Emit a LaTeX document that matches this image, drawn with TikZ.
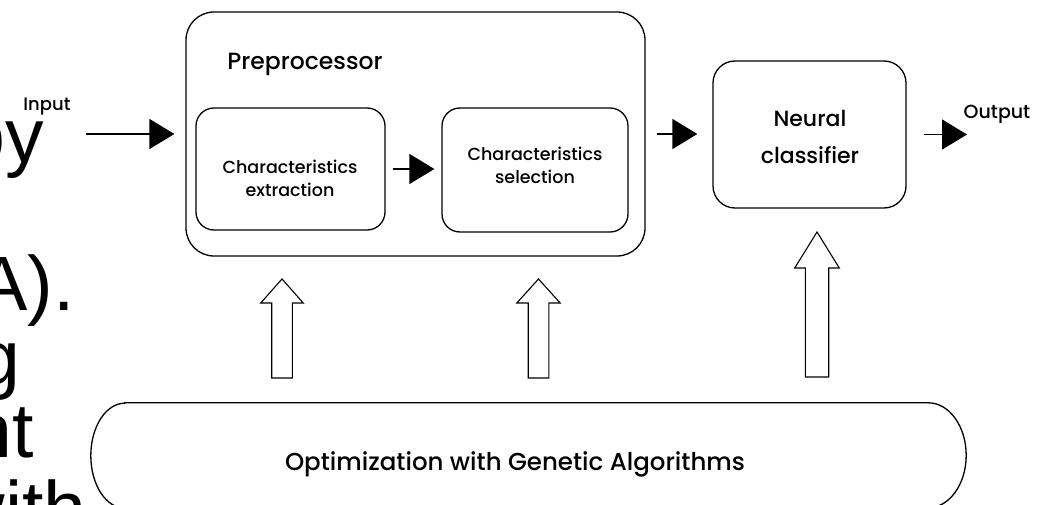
\documentclass[tikz,border=0pt]{standalone}
\usepackage{fontspec}
\setmainfont{Poppins}[UprightFont=* Medium]
\newfontfamily\slidefont{Liberation Sans}
\usetikzlibrary{arrows.meta}

% hollow block arrow pointing up: x, tip y, head base y, bottom y, shaft half width, head half width
\newcommand\blockarrow[6]{%
  \draw[hollow] (#1-#5,#4) -- (#1-#5,#3) -- (#1-#6,#3) -- (#1,#2)
    -- (#1+#6,#3) -- (#1+#5,#3) -- (#1+#5,#4) -- cycle;}

\begin{document}
\begin{tikzpicture}[x=1pt,y=-1pt,
  box/.style={draw, line width=1.3pt, rounded corners=#1, inner sep=0pt},
  flow/.style={line width=1.4pt, -{Triangle[length=25pt,width=30pt]}},
  hollow/.style={draw, line width=1.1pt, fill=white, line join=miter},
  slide/.style={font=\slidefont\fontsize{77}{77}\selectfont, inner sep=0pt, anchor=base east},
  lab/.style={inner sep=0pt, align=center}]

\fill[white] (0,0) rectangle (1042,505);
\useasboundingbox (0,0) rectangle (1042,505);
\clip (0,0) rectangle (1042,505);

% slide text running off the left edge
\node[slide] (s1) at (44,163) {by};
\node[slide] (s2) at (75,310) {A).};
\node[slide] (s3) at (21,384) {g};
\node[slide] (s4) at (34,457) {nt};
\node[slide] (s5) at (87,535) {with};

% boxes
\node[box=28pt, minimum width=459pt, minimum height=244pt] (pre) at (415.5,134) {};
\node[box=18pt, minimum width=189pt, minimum height=122pt] (ext) at (290.5,169) {};
\node[box=18pt, minimum width=186pt, minimum height=124pt] (sel) at (535,170) {};
\node[box=22pt, minimum width=193pt, minimum height=147pt] (nn) at (809.5,134.5) {};

% labels
\node[lab, font=\fontsize{23.5}{26}\selectfont, anchor=base] (pretitle) at (305,70) {Preprocessor};
\node[lab, font=\fontsize{17.5}{23}\selectfont] (extlbl) at (290,178) {Characteristics\\extraction};
\node[lab, font=\fontsize{17.5}{23}\selectfont] (sellbl) at (535,165) {Characteristics\\selection};
\node[lab, font=\fontsize{22}{37}\selectfont] (nnlbl) at (810,137) {Neural\\classifier};
\node[lab, font=\fontsize{18}{20}\selectfont] (inlbl) at (47,107) {Input};
\node[lab, font=\fontsize{19}{21}\selectfont] (outlbl) at (997,114) {Output};

% flow arrows
\coordinate (inS) at (86,134);
\coordinate (outE) at (967,134);
\draw[flow, shorten >=11pt] (inS) -- (pre.west);
\draw[flow, shorten <=7pt, shorten >=7pt] (ext.east) -- (ext.east -| sel.west);
\draw[flow, shorten <=11pt, shorten >=15pt] (pre.east) -- (pre.east -| nn.west);
\draw[flow, shorten <=17pt] (nn.east) -- (nn.east -| outE);

% genetic algorithm block
\node[minimum width=875pt, minimum height=105pt, inner sep=0pt] (ga) at (528.5,455.5) {};
\draw[line width=1.3pt] ([xshift=34pt]ga.north west) -- ([xshift=-38pt]ga.north east)
  arc[start angle=-90, end angle=90, x radius=38, y radius=52.5]
  -- ([xshift=34pt]ga.south west)
  arc[start angle=90, end angle=270, x radius=34, y radius=52.5] -- cycle;
\node[lab, font=\fontsize{24.5}{30}\selectfont, anchor=base] (galbl) at (515,470) {Optimization with Genetic Algorithms};

% hollow arrows from the optimizer
\blockarrow{282}{279}{303}{378}{10.3}{21.3}
\blockarrow{538.5}{279}{303}{378}{10.3}{21.7}
\blockarrow{817}{232}{268}{377}{11.7}{22.3}
\end{tikzpicture}
\end{document}
